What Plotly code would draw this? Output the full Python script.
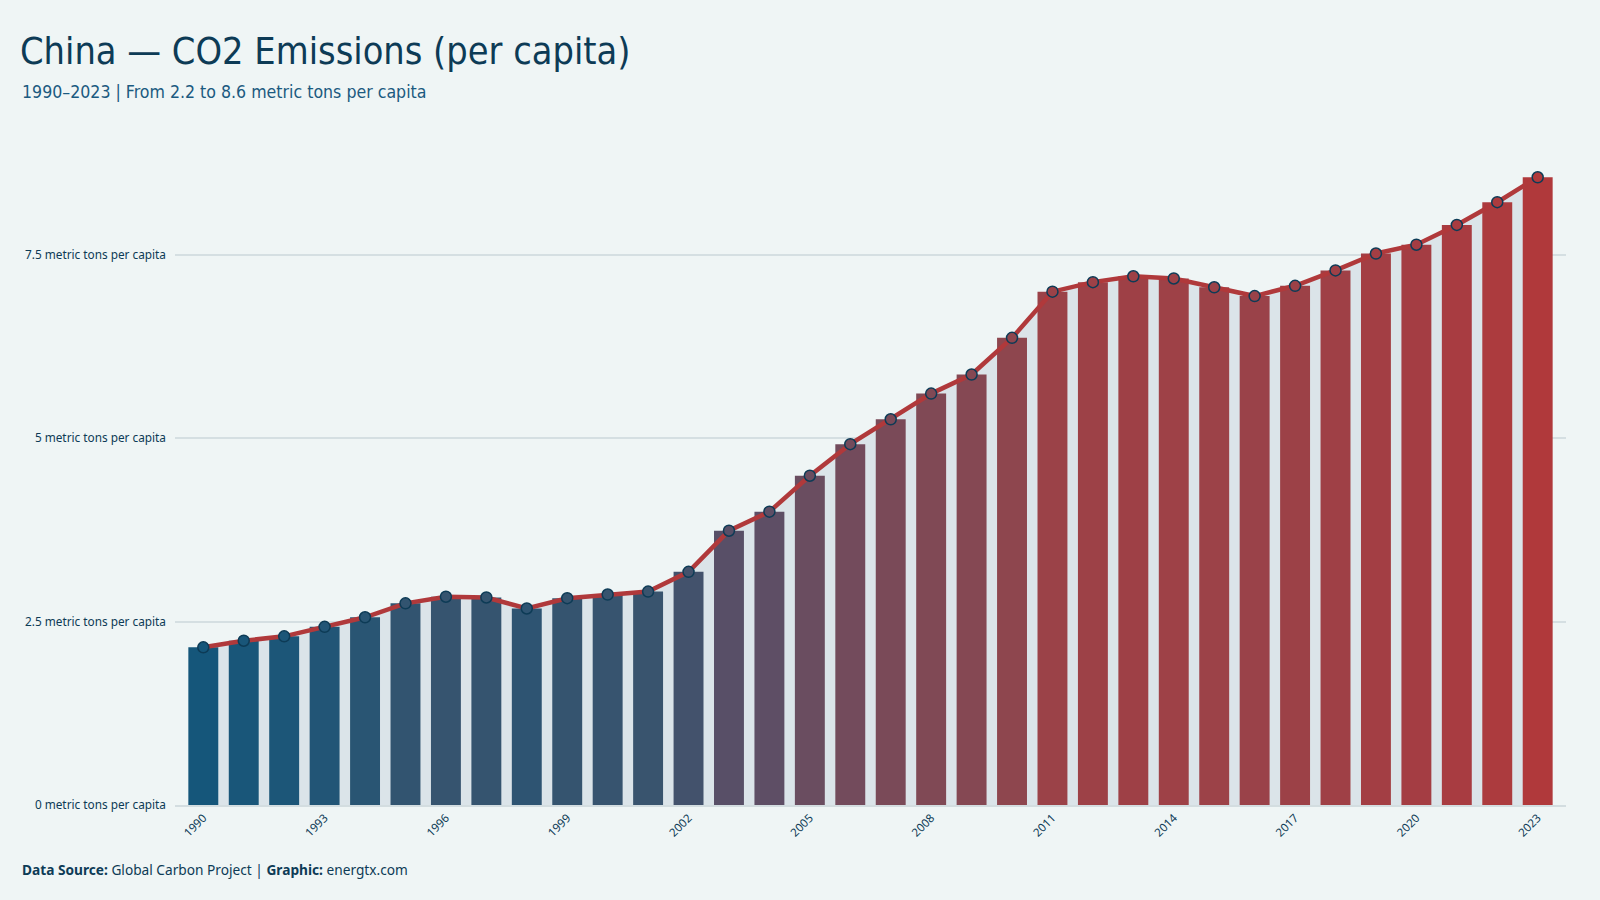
import plotly.graph_objects as go

years = list(range(1990, 2024))
values = [2.15, 2.24, 2.30, 2.43, 2.56, 2.75, 2.84, 2.83, 2.68, 2.82, 2.87, 2.91,
          3.18, 3.74, 4.00, 4.49, 4.92, 5.26, 5.61, 5.87, 6.37, 7.00, 7.13, 7.21,
          7.18, 7.06, 6.94, 7.08, 7.29, 7.52, 7.64, 7.91, 8.22, 8.56]
tick_years = years[::3]
y_ticks = [0, 2.5, 5, 7.5]
y_tick_text = ["0 metric tons per capita", "2.5 metric tons per capita",
               "5 metric tons per capita", "7.5 metric tons per capita"]

title_text = "China — CO2 Emissions (per capita)"
subtitle_text = "1990–2023 | From 2.2 to 8.6 metric tons per capita"
footer_text = "<b>Data Source:</b> Global Carbon Project | <b>Graphic:</b> energtx.com"

colorscale = [
    [0.0, "#15567a"], [0.108, "#36546f"], [0.16, "#43526c"], [0.25, "#584f67"],
    [0.366, "#6a4d60"], [0.486, "#7a4a58"], [0.66, "#8e464e"], [0.758, "#9b4248"],
    [0.84, "#a33e44"], [1.0, "#b0393b"],
]

BG = "#eff5f5"
DARK = "#0d3b56"
FONT = "Noto Sans, Open Sans, sans-serif"
COND = "DejaVu Sans Condensed, Liberation Sans Narrow, sans-serif"

fig = go.Figure()

# area under the line (sits behind the bars)
fig.add_trace(go.Scatter(
    x=years, y=values, mode="lines", fill="tozeroy",
    fillcolor="#dbe4e9", line=dict(width=0, color="rgba(0,0,0,0)"),
    hoverinfo="skip", showlegend=False, xaxis="x", yaxis="y"))

fig.add_trace(go.Bar(
    x=years, y=values, showlegend=False,
    marker=dict(color=values, colorscale=colorscale, cmin=min(values), cmax=max(values),
                line=dict(width=0)),
    xaxis="x", yaxis="y2"))

fig.add_trace(go.Scatter(
    x=years, y=values, mode="lines+markers", showlegend=False,
    line=dict(color="#b0393b", width=4.5),
    marker=dict(size=11, color=values, colorscale=colorscale, cmin=min(values), cmax=max(values),
                line=dict(color=DARK, width=1.5)),
    xaxis="x", yaxis="y2"))

yrange = [0, 9.0]
fig.update_layout(
    width=1600, height=900,
    paper_bgcolor=BG, plot_bgcolor=BG,
    margin=dict(l=175, r=34, t=145, b=95),
    bargap=0.26,
    title=dict(text=title_text, xref="container", yref="container", x=20 / 1600,
               xanchor="left", y=1 - 51 / 900, yanchor="middle",
               font=dict(family=COND, size=37.6, color=DARK)),
    xaxis=dict(range=[1989.3, 2023.7], tickmode="array", tickvals=tick_years,
               ticktext=[str(y) for y in tick_years], tickangle=-45,
               tickfont=dict(family=FONT, size=11.5, color=DARK),
               showgrid=False, zeroline=False, showline=True, linecolor="#d3dde0",
               linewidth=1.5, ticks=""),
    yaxis=dict(range=yrange, tickmode="array", tickvals=y_ticks, ticktext=y_tick_text,
               tickfont=dict(family=FONT, size=11.8, color=DARK),
               showgrid=True, gridcolor="#d5dfe2", gridwidth=1.5, zeroline=False,
               ticks="", ticklabelstandoff=8),
    yaxis2=dict(range=yrange, overlaying="y", visible=False),
    annotations=[
        dict(text=subtitle_text, xref="paper", yref="paper", x=(20 - 175) / 1391,
             xanchor="left", y=1 + (145 - 92) / 660, yanchor="middle", showarrow=False,
             font=dict(family=COND, size=17.6, color="#1b5a80")),
        dict(text=footer_text, xref="paper", yref="paper", x=(20 - 175) / 1391,
             xanchor="left", y=-(870 - 805) / 660, yanchor="middle", showarrow=False,
             font=dict(family=FONT, size=13.7, color=DARK)),
    ],
)

fig.write_html("out.html")
